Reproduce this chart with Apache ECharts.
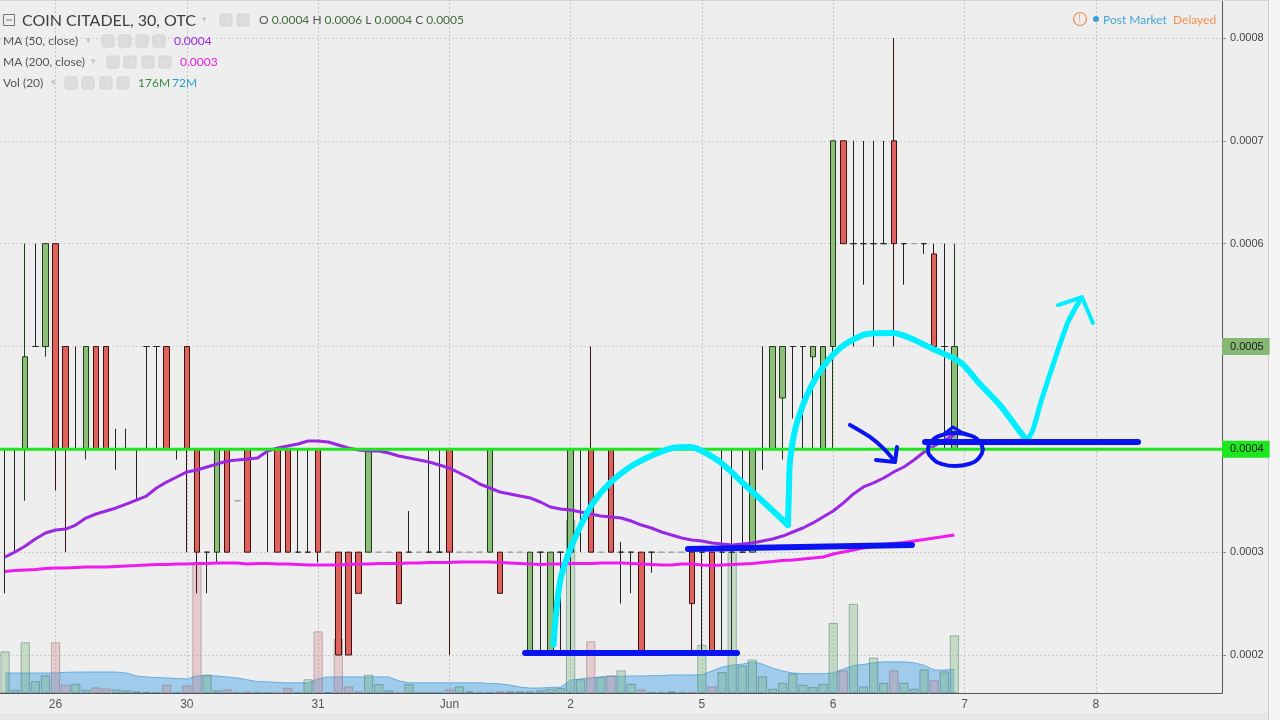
<!DOCTYPE html>
<html><head><meta charset="utf-8">
<script src="https://cdn.jsdelivr.net/npm/echarts@6/dist/echarts.min.js"></script>
<style>html,body{margin:0;padding:0;background:#eeeeee;}#c{width:1280px;height:720px;}</style>
</head><body><div id="c"></div>
<script>
// ---- time axis ----
const dayNames = ['May 25','May 26','May 30','May 31','Jun 1','Jun 2','Jun 5','Jun 6','Jun 7','Jun 8'];
const dayBars = [5,13,13,13,12,13,13,13,13,13];
const dayTickLabels = ['','26','30','31','Jun','2','5','6','7','8'];

// ---- price bars (30 min) ----
const opens = [0.0004,0.0004,0.0004,0.0005,0.0005,0.0006,0.0005,0.0004,0.0004,0.0005,
0.0005,0.0004,0.0004,0.0004,0.0005,0.0005,0.0005,0.0004,0.0005,0.0004,
0.0003,0.0003,0.0004,0.00035,0.0004,0.0004,0.0004,0.0004,0.0004,0.0003,
0.0003,0.0004,0.0003,0.0003,0.0003,0.0003,0.0003,0.0003,0.0003,0.0003,
0.0003,0.0003,0.0003,0.0003,0.0004,0.0003,0.0003,0.0003,0.0003,0.0003,
0.0003,0.0003,0.0002,0.0003,0.0002,0.0003,0.0003,0.0004,0.0004,0.0003,
0.0004,0.0003,0.0003,0.0003,0.0003,0.0003,0.0003,0.0003,0.0003,0.0003,
0.0003,0.0003,0.0003,0.0003,0.0003,0.0004,0.0004,0.00045,0.0005,0.0005,
0.00049,0.0004,0.0005,0.0007,0.0006,0.0006,0.0006,0.0006,0.0007,0.0006,
0.0006,0.0006,0.00059,0.0005,0.0004];
const highs = [0.0004,0.0004,0.0006,0.0006,0.0006,0.0006,0.0005,0.0005,0.0005,0.0005,
0.0005,0.00042,0.00042,0.0004,0.0005,0.0005,0.0005,0.0004,0.0005,0.0004,
0.0003,0.0004,0.0004,0.00035,0.0004,0.0004,0.0004,0.0004,0.0004,0.0004,
0.0004,0.0004,0.0003,0.0003,0.0003,0.0003,0.0004,0.0003,0.0003,0.0003,
0.00034,0.0003,0.0004,0.0004,0.0004,0.0003,0.0003,0.0003,0.0004,0.0003,
0.0003,0.0003,0.0003,0.0003,0.0003,0.0003,0.0004,0.0004,0.0005,0.0003,
0.0004,0.00031,0.0003,0.0003,0.0003,0.0003,0.0003,0.0003,0.0003,0.0003,
0.0003,0.0004,0.0004,0.0004,0.0004,0.0005,0.0005,0.0005,0.0005,0.0005,
0.0005,0.0005,0.0007,0.0007,0.0007,0.0007,0.0007,0.0007,0.0008,0.0006,
0.0006,0.0006,0.0006,0.0006,0.0006];
const lows = [0.00026,0.0003,0.00035,0.0005,0.00049,0.00036,0.0003,0.0004,0.00039,0.0004,
0.0004,0.00038,0.0004,0.00035,0.0004,0.0004,0.0004,0.00039,0.0003,0.00026,
0.00026,0.00029,0.0003,0.00035,0.0003,0.0004,0.0003,0.0003,0.0003,0.0003,
0.0003,0.00029,0.0003,0.0002,0.0002,0.00026,0.0003,0.0003,0.0003,0.00025,
0.0003,0.0003,0.0003,0.0003,0.0002,0.0003,0.0003,0.0003,0.0003,0.00026,
0.0003,0.0003,0.0002,0.0002,0.0002,0.0002,0.0002,0.0003,0.0003,0.0003,
0.0003,0.00025,0.00026,0.0002,0.00028,0.0003,0.0003,0.0003,0.0002,0.0002,
0.0002,0.0002,0.0002,0.0003,0.0003,0.00038,0.0004,0.00039,0.00043,0.0004,
0.0004,0.0004,0.0004,0.0006,0.0005,0.00056,0.0005,0.0006,0.0005,0.00056,
0.0006,0.00059,0.0005,0.0004,0.0004];
const closes = [0.0004,0.0004,0.00049,0.0005,0.0006,0.0004,0.0004,0.0004,0.0005,0.0004,
0.0004,0.0004,0.0004,0.0004,0.0005,0.0005,0.0004,0.0004,0.0004,0.0003,
0.0003,0.0004,0.0003,0.00035,0.0003,0.0004,0.0004,0.0003,0.0003,0.0003,
0.0003,0.0003,0.0003,0.0002,0.0002,0.00026,0.0004,0.0003,0.0003,0.00025,
0.0003,0.0003,0.0003,0.0003,0.0003,0.0003,0.0003,0.0003,0.0004,0.00026,
0.0003,0.0003,0.0003,0.0003,0.0003,0.0003,0.0004,0.0004,0.0003,0.0003,
0.0003,0.0003,0.0003,0.0002,0.0003,0.0003,0.0003,0.0003,0.00025,0.0003,
0.0002,0.0003,0.0003,0.0003,0.0004,0.0004,0.0005,0.0005,0.0005,0.0005,
0.0005,0.0005,0.0007,0.0006,0.0006,0.0006,0.0006,0.0006,0.0006,0.0006,
0.0006,0.0006,0.0005,0.0005,0.0005];

// ---- volume (millions) and Vol MA(20) ----
const volumes = [127,10,155,36,54,155,25,28,10,17,
14,11,8,5,3,1,25,1,23,393,
56,8,11,1,4,1,1,1,16,1,
42,188,3,166,20,5,56,27,8,1,
27,1,1,1,11,20,5,1,2,5,
5,5,5,8,13,15,527,42,158,49,
54,69,28,11,2,1,5,1,2,147,
20,64,430,84,102,51,13,31,59,25,
18,28,214,69,272,20,108,31,69,31,
13,72,39,66,176];
const volMA = [61,61,61,61,61,61,63,64,64,64,
64,64,61,52,49,47,46,44,43,52,
53,52,49,46,40,35,34,32,31,31,
31,43,49,49,49,49,49,49,49,37,
31,31,31,31,31,31,31,31,29,28,
24,18,15,15,17,18,39,43,46,49,
51,51,52,52,53,53,55,55,55,56,
67,79,85,88,95,88,76,67,61,59,
59,59,61,73,84,87,92,95,95,95,
92,85,70,70,72];

// ---- moving averages ----
const ma50 = [0.0002953,0.0003002,0.0003060,0.0003128,0.0003186,0.0003216,0.0003225,0.0003264,0.0003332,0.0003371,
0.0003400,0.0003430,0.0003468,0.0003507,0.0003546,0.0003624,0.0003682,0.0003731,0.0003780,0.0003799,
0.0003828,0.0003857,0.0003887,0.0003896,0.0003906,0.0003916,0.0003984,0.0004013,0.0004033,0.0004052,
0.0004081,0.0004081,0.0004071,0.0004042,0.0004013,0.0003994,0.0003984,0.0003984,0.0003964,0.0003935,
0.0003916,0.0003896,0.0003877,0.0003848,0.0003819,0.0003770,0.0003721,0.0003663,0.0003624,0.0003585,
0.0003566,0.0003546,0.0003527,0.0003488,0.0003439,0.0003420,0.0003410,0.0003391,0.0003371,0.0003352,
0.0003342,0.0003332,0.0003303,0.0003264,0.0003235,0.0003196,0.0003167,0.0003138,0.0003118,0.0003109,
0.0003089,0.0003079,0.0003070,0.0003079,0.0003089,0.0003109,0.0003128,0.0003157,0.0003196,0.0003235,
0.0003284,0.0003342,0.0003400,0.0003478,0.0003566,0.0003634,0.0003673,0.0003721,0.0003780,0.0003828,
0.0003896,0.0003974,0.0004033,0.0004091,0.0004140];
const ma200 = [0.0002812,0.0002822,0.0002827,0.0002831,0.0002841,0.0002846,0.0002846,0.0002851,0.0002856,0.0002856,
0.0002856,0.0002861,0.0002866,0.0002870,0.0002875,0.0002880,0.0002880,0.0002885,0.0002885,0.0002890,
0.0002890,0.0002895,0.0002895,0.0002895,0.0002885,0.0002890,0.0002890,0.0002885,0.0002885,0.0002880,
0.0002875,0.0002875,0.0002875,0.0002875,0.0002880,0.0002885,0.0002885,0.0002890,0.0002890,0.0002890,
0.0002895,0.0002895,0.0002900,0.0002900,0.0002900,0.0002904,0.0002904,0.0002904,0.0002904,0.0002900,
0.0002895,0.0002890,0.0002885,0.0002880,0.0002885,0.0002885,0.0002890,0.0002890,0.0002890,0.0002895,
0.0002895,0.0002895,0.0002890,0.0002885,0.0002880,0.0002875,0.0002875,0.0002885,0.0002885,0.0002875,
0.0002870,0.0002875,0.0002880,0.0002885,0.0002890,0.0002900,0.0002909,0.0002919,0.0002924,0.0002934,
0.0002943,0.0002953,0.0002982,0.0003002,0.0003021,0.0003041,0.0003060,0.0003075,0.0003084,0.0003094,
0.0003109,0.0003123,0.0003138,0.0003152,0.0003167];

// ---- levels ----
const supportLevel = 0.0004;
const lastClose = 0.0005;

// ---- hand-drawn annotations: [bar position, price] ----
const cyanArc = [[54.3,0.000210],[54.6,0.000244],[55.05,0.0002759],[55.94,0.0003021],[56.93,0.0003245],[58.22,0.0003478],[59.90,0.0003673],[61.88,0.0003828],[64.16,0.0003945],[66.14,0.0004013],[67.82,0.0004023],[68.81,0.0003994],[70.79,0.0003877],[73.27,0.0003653],[75.74,0.0003430],[77.52,0.0003264]];
const cyanRise = [[77.52,0.0003264],[77.62,0.0003605],[77.72,0.0003877],[78.22,0.0004188],[79.01,0.0004431],[79.90,0.0004626],[80.99,0.0004801],[82.18,0.0004937],[83.37,0.0005034],[85.35,0.0005122],[87.92,0.0005131],[89.60,0.0005083],[91.88,0.0004976],[94.55,0.0004849],[96.53,0.0004635],[98.51,0.0004431],[100.0,0.0004237],[101.19,0.0004081]];
const cyanUp = [[101.19,0.0004081],[101.78,0.0004188],[102.48,0.0004431],[103.27,0.0004674],[104.26,0.0004966],[105.25,0.0005238],[106.44,0.0005452]];
const cyanHead = [[104.26,0.0005403],[106.63,0.0005481],[107.72,0.0005229]];
const blueLow = [[51.49,0.000202],[72.48,0.000202]];
const blueMid = [[67.62,0.0003031],[89.80,0.0003070]];
const blueHigh = [[91.09,0.0004071],[112.18,0.0004071]];
const blueEllipse = [[96.83,0.0003998],[96.44,0.0004081],[95.45,0.0004139],[94.06,0.0004159],[92.77,0.0004139],[91.78,0.0004081],[91.39,0.0003998],[91.78,0.0003916],[92.77,0.0003857],[94.06,0.0003838],[95.45,0.0003857],[96.44,0.0003916],[96.83,0.0003998]];
const blueHook = [[92.97,0.0004149],[93.86,0.0004217],[94.85,0.0004159]];
const blueArrow = [[83.66,0.0004237],[85.64,0.0004120],[87.13,0.0003994],[88.12,0.0003877]];
const blueArrowHead = [[86.24,0.0003896],[88.12,0.0003877],[88.32,0.0004023]];

// ---- build categories ----
const categories = [];
const labelOf = {};
const dayStartNames = [];
dayNames.forEach((d, di) => {
  for (let k = 0; k < dayBars[di]; k++) {
    const name = d + ' #' + k;
    categories.push(name);
    if (k === 0 && dayTickLabels[di] !== '') { labelOf[name] = dayTickLabels[di]; dayStartNames.push(name); }
  }
});
const N = categories.length;

const candleData = opens.map((o, i) => {
  const item = { value: [o, closes[i], lows[i], highs[i]] };
  if (highs[i] === lows[i]) item.itemStyle = { borderColorDoji: '#a0a0a0', borderColor: '#a0a0a0' };
  return item;
});
const volData = volumes.map((v, i) => ({
  value: v,
  itemStyle: closes[i] >= opens[i]
    ? { color: 'rgba(110,175,100,0.30)', borderColor: 'rgba(60,110,120,0.45)' }
    : { color: 'rgba(205,120,120,0.28)', borderColor: 'rgba(140,100,120,0.45)' }
}));

const SANS = 'Liberation Sans, Arial, sans-serif';
const HEAD = 'Lato, Open Sans, sans-serif';

function annot(points, color, width, smooth) {
  return {
    type: 'line', xAxisIndex: 1, yAxisIndex: 0, data: points, smooth: smooth,
    showSymbol: false, silent: true, z: 10,
    lineStyle: { color: color, width: width, cap: 'round', join: 'round' }
  };
}
function level(value, color, width, labelBg) {
  return {
    type: 'line', xAxisIndex: 1, yAxisIndex: 0, data: [[-0.5, value], [N - 0.5, value]],
    showSymbol: false, silent: true, z: 6, clip: false,
    lineStyle: { color: color, width: width, opacity: width > 0 ? 1 : 0 },
    endLabel: { show: true, distance: 0, formatter: value.toFixed(4), backgroundColor: labelBg,
      color: '#1a1a1a', fontSize: 11, fontFamily: SANS, padding: [3, 6, 3, 8] }
  };
}

const chart = echarts.init(document.getElementById('c'), null, { renderer: 'canvas' });

function txt(x, y, text, size, color, family) {
  return { type: 'text', x: x, y: y, silent: true, z: 100,
    style: { text: text, fontSize: size, fontFamily: family || HEAD, fill: color, verticalAlign: 'middle', align: 'left' } };
}
function icon(x, y) {
  return { type: 'rect', shape: { x: x, y: y - 6, width: 12, height: 12, r: 2 }, silent: true, z: 100,
    style: { fill: '#dddddd', stroke: '#d2d2d2' } };
}

const graphics = [
  { type: 'rect', shape: { x: 1268, y: 0, width: 12, height: 720 }, silent: true, z: 0, style: { fill: '#f5f5f5' } },
  { type: 'line', shape: { x1: 1268.5, y1: 0, x2: 1268.5, y2: 720 }, silent: true, z: 1, style: { stroke: '#cccccc' } },
  { type: 'line', shape: { x1: 0, y1: 0.5, x2: 1268, y2: 0.5 }, silent: true, z: 1, style: { stroke: '#d6d6d6' } },
  { type: 'rect', shape: { x: 0, y: 713, width: 1268, height: 7 }, silent: true, z: 0, style: { fill: '#e6e6e6' } },
  // header row 1
  { type: 'rect', shape: { x: 3.5, y: 14.5, width: 11, height: 11 }, silent: true, z: 100, style: { fill: 'none', stroke: '#777', lineWidth: 1 } },
  { type: 'line', shape: { x1: 6, y1: 20, x2: 12, y2: 20 }, silent: true, z: 100, style: { stroke: '#777', lineWidth: 1 } },
  txt(22, 21, 'COIN CITADEL, 30, OTC', 16, '#3c3c3c'),
  txt(202, 20, '▾', 9, '#c4c4c4', SANS),
  icon(220, 20), icon(237, 20),
  { type: 'text', x: 259, y: 20, silent: true, z: 100, style: {
      text: '{l|O} {v|0.0004} {l|H} {v|0.0006} {l|L} {v|0.0004} {l|C} {v|0.0005}',
      fontSize: 12, fontFamily: HEAD, verticalAlign: 'middle',
      rich: { l: { fill: '#555555', fontSize: 12, fontFamily: HEAD }, v: { fill: '#3f6e3a', fontSize: 12, fontFamily: HEAD } } } },
  // MA 50
  txt(3, 41, 'MA (50, close)', 12, '#555555'),
  txt(86, 41, '▾', 9, '#c4c4c4', SANS),
  icon(102, 41), icon(119, 41), icon(136, 41), icon(153, 41),
  txt(174, 41, '0.0004', 12, '#9a2ae0'),
  // MA 200
  txt(3, 62, 'MA (200, close)', 12, '#555555'),
  txt(91, 62, '▾', 9, '#c4c4c4', SANS),
  icon(107, 62), icon(124, 62), icon(142, 62), icon(159, 62),
  txt(180, 62, '0.0003', 12, '#e61ee6'),
  // Vol
  txt(3, 83, 'Vol (20)', 12, '#555555'),
  txt(51, 83, '▾', 9, '#c4c4c4', SANS),
  icon(65, 83), icon(82, 83), icon(100, 83), icon(117, 83),
  txt(138, 83, '176M', 12, '#3b8a3b'),
  txt(172, 83, '72M', 12, '#2a9ad6'),
  // top right status
  { type: 'circle', shape: { cx: 1080, cy: 19, r: 6.5 }, silent: true, z: 100, style: { fill: 'none', stroke: '#f0914f', lineWidth: 1.2 } },
  txt(1078.3, 19.5, '!', 10, '#f0914f', SANS),
  { type: 'circle', shape: { cx: 1096, cy: 19, r: 3 }, silent: true, z: 100, style: { fill: '#3aa0d8' } },
  txt(1103, 20, 'Post Market', 12, '#47a4d9'),
  txt(1173, 20, 'Delayed', 12, '#f0914f')
];

chart.setOption({
  backgroundColor: '#eeeeee',
  animation: false,
  grid: { left: 0, top: 0, width: 1222, height: 693, containLabel: false, outerBoundsMode: 'none' },
  xAxis: [
    { type: 'category', data: categories, boundaryGap: true,
      axisLine: { show: true, onZero: false, lineStyle: { color: '#555555' } },
      axisTick: { show: false },
      axisLabel: { interval: (idx, val) => labelOf[val] !== undefined, formatter: (val) => labelOf[val] || '',
                   color: '#555555', fontSize: 12, fontFamily: SANS, margin: 6 },
      splitLine: { show: false } },
    { type: 'value', min: -0.5, max: N - 0.5, show: false, axisLine: { onZero: false } }
  ],
  yAxis: [
    { type: 'value', position: 'right', min: 0.00016305, max: 0.00083695,
      minInterval: 0.0001, maxInterval: 0.0001, scale: true,
      axisLine: { show: true, onZero: false, lineStyle: { color: '#555555' } },
      axisTick: { show: true, length: 4, lineStyle: { color: '#888888' } },
      axisLabel: { showMinLabel: false, showMaxLabel: false, formatter: (v) => v.toFixed(4),
                   color: '#444444', fontSize: 11, fontFamily: SANS, margin: 8 },
      splitLine: { show: true, lineStyle: { color: '#cdcdcd', type: [2, 2] } } },
    { type: 'value', min: 0, max: 2114, show: false, axisLine: { onZero: false } }
  ],
  graphic: graphics,
  series: [
    { name: 'VolMA', type: 'line', data: volMA, yAxisIndex: 1, showSymbol: false, silent: true, z: 1,
      lineStyle: { color: 'rgba(90,168,225,0.9)', width: 1 },
      areaStyle: { color: 'rgba(95,175,232,0.78)' },
      markLine: { symbol: 'none', silent: true, z: 1, label: { show: false },
        lineStyle: { color: '#c6c6c6', type: [2, 2], width: 1 },
        data: dayStartNames.map(n => ({ xAxis: n })) } },
    { name: 'Volume', type: 'bar', data: volData, yAxisIndex: 1, barCategoryGap: '8%', silent: true, z: 2,
      itemStyle: { borderWidth: 1 } },
    { name: 'Price', type: 'candlestick', data: candleData, barWidth: 6, z: 3, silent: true,
      itemStyle: { color: '#8ebf78', color0: '#e0625c', borderColor: '#1e3a1a', borderColor0: '#3a1010',
                   borderColorDoji: '#222222', borderWidth: 1 } },
    { name: 'MA200', type: 'line', data: ma200, showSymbol: false, silent: true, z: 4,
      lineStyle: { color: '#ee1aee', width: 3 } },
    { name: 'MA50', type: 'line', data: ma50, showSymbol: false, silent: true, z: 4,
      lineStyle: { color: '#9a28e2', width: 3 } },
    level(lastClose, '#86b873', 0, '#86b873'),
    level(supportLevel, '#1ee61e', 3, '#1ee61e'),
    annot(cyanArc, '#00eeff', 6, 0.3),
    annot(cyanRise, '#00eeff', 6, 0.3),
    annot(cyanUp, '#00eeff', 5, 0.2),
    annot(cyanHead, '#00eeff', 4, false),
    annot(blueLow, '#0a14f0', 6, false),
    annot(blueMid, '#0a14f0', 6, false),
    annot(blueHigh, '#0a14f0', 6, false),
    annot(blueEllipse, '#0a14f0', 4, 0.5),
    annot(blueHook, '#0a14f0', 3, false),
    annot(blueArrow, '#0a14f0', 4, 0.3),
    annot(blueArrowHead, '#0a14f0', 4, false)
  ]
});
</script></body></html>
